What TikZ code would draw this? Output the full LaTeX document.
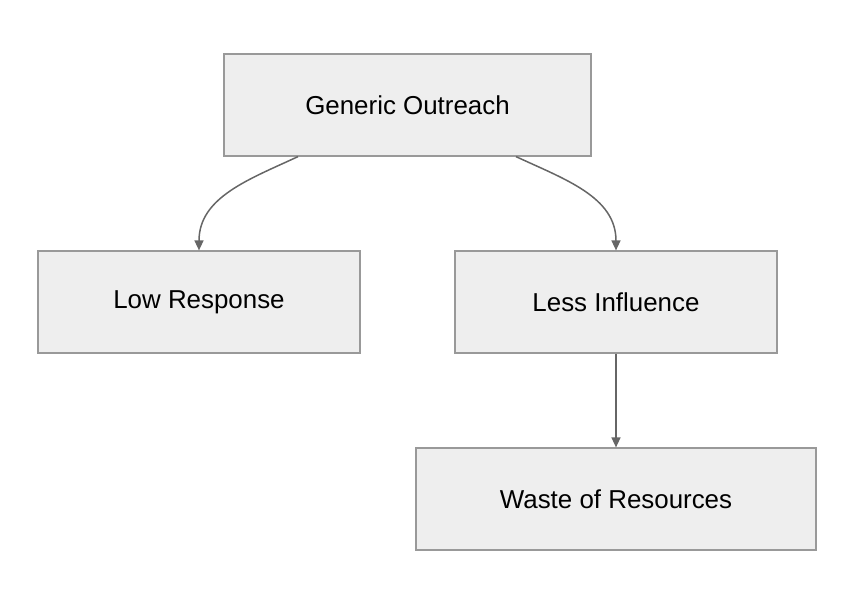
\documentclass[tikz,border=0pt]{standalone}
\usepackage{fontspec}
\setmainfont{Liberation Sans}
\usetikzlibrary{calc,arrows.meta}
\definecolor{boxfill}{HTML}{EEEEEE}
\definecolor{boxline}{HTML}{999999}
\definecolor{edgeline}{HTML}{666666}
\tikzset{
	% ------- custom
	box/.style={
		draw=boxline, fill=boxfill, line width=1.2bp,
		inner sep=0pt, font=\fontsize{26}{30}\selectfont,
	},
	link/.style={
		draw=edgeline, line width=1.5bp,
		-{Triangle[length=10bp,width=9bp]},
	},
}
\begin{document}
\begin{tikzpicture}[x=1bp,y=-1bp]

% frame %{{{1

	\useasboundingbox (0,0) rectangle (854,604);

% nodes %{{{1

	\node[box, minimum width=367bp, minimum height=102bp] (go) at (407.5,105) {Generic Outreach};
	\node[box, minimum width=322bp, minimum height=102bp] (lr) at (199,302) {Low Response};
	\node[box, minimum width=322bp, minimum height=102bp] (li) at (616,302) {Less Influence};
	\node[box, minimum width=400bp, minimum height=102bp] (wr) at (616,499) {Waste of Resources};

% connectors %{{{1

	\draw[link] ($(go.south)+(-109.5,0)$) to[out=-155,in=90] (lr.north);
	\draw[link] ($(go.south)+(108.5,0)$) to[out=-25,in=90] (li.north);
	\draw[link] (li.south) -- (wr.north);

% closing %{{{1

\end{tikzpicture}
\end{document}
